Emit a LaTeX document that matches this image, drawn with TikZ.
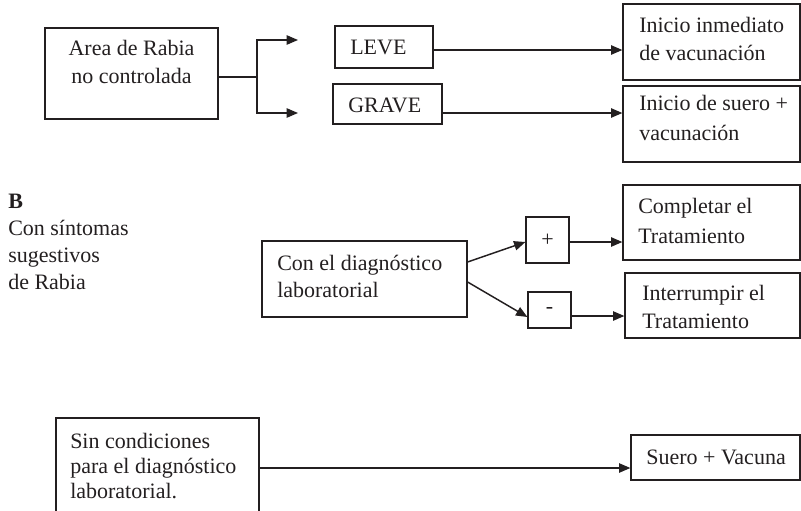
\documentclass[tikz,border=0pt]{standalone}
\usepackage{fontspec}
\setmainfont{Liberation Serif}
\usetikzlibrary{fit,calc,arrows.meta}
\definecolor{ink}{RGB}{35,31,32}
\newcommand\mlines[3]{\fontsize{16.5}{#1}\selectfont\begin{tabular}[t]{@{}#2@{}}#3\end{tabular}}
\begin{document}
\begin{tikzpicture}[x=0.75pt,y=-0.75pt,
  box/.style={draw=ink, line width=0.9pt, inner sep=0pt},
  txt/.style={inner sep=0pt, anchor=base west, text=ink, font=\fontsize{16.5}{20}\selectfont},
  ctxt/.style={inner sep=0pt, anchor=base, text=ink, font=\fontsize{16.5}{20}\selectfont},
  conn/.style={draw=ink, line width=1.1pt},
  arr/.style={draw=ink, line width=1.1pt, -{Triangle[length=8.5pt,width=7pt]}}]
\useasboundingbox (0,0) rectangle (801,511);
\clip (0,0) rectangle (801,511);
% --- A section
\node[box, fit={(45,28) (218,119)}] (area) {};
\node[ctxt] (areaT) at (131.5,55) {\mlines{21pt}{c}{Area de Rabia\\no controlada}};
\node[box, fit={(335,26) (433,68)}] (lv) {};
\node[txt] (lvT) at (350,54) {LEVE};
\node[box, fit={(333,84) (442,124)}] (gr) {};
\node[txt] (grT) at (348,112) {GRAVE};
\node[box, fit={(623,4) (800,80)}] (inm) {};
\node[txt] (inmT) at (639,32) {\mlines{21pt}{l}{Inicio inmediato\\de vacunación}};
\node[box, fit={(623,86) (800,162)}] (sue) {};
\node[txt] (sueT) at (639,110) {\mlines{22.5pt}{l}{Inicio de suero +\\vacunación}};
\coordinate (br) at (257,77);
\coordinate (tl) at (298,40);
\coordinate (tg) at (298,113);
\draw[conn] (area.east |- br) -- (br);
\draw[arr] (br) |- (tl);
\draw[arr] (br) |- (tg);
\draw[arr] (lv.east |- 0,50) -- (inm.west |- 0,50);
\draw[arr] (gr.east |- 0,113) -- (sue.west |- 0,113);
% --- B section
\node[txt] (bT) at (8,208) {\mlines{20.25pt}{l}{\textbf{B}\\Con síntomas\\sugestivos\\de Rabia}};
\node[box, fit={(262,241) (467,317)}] (cd) {};
\node[txt] (cdT) at (277,270) {\mlines{20.25pt}{l}{Con el diagnóstico\\laboratorial}};
\node[box, fit={(526,217) (569,263)}] (pl) {};
\node[ctxt, anchor=center] (plT) at (pl.center) {+};
\node[box, fit={(528,292) (571,328)}] (mi) {};
\node[ctxt, anchor=center] (miT) at (mi.center) {-};
\node[box, fit={(623,185) (800,260)}] (co) {};
\node[txt] (coT) at (638,213) {\mlines{22.5pt}{l}{Completar el\\Tratamiento}};
\node[box, fit={(625,273) (800,338)}] (in) {};
\node[txt] (inT) at (642,300) {\mlines{21pt}{l}{Interrumpir el\\Tratamiento}};
\draw[arr] (cd.east |- 0,262) -- (pl.west |- 0,242);
\draw[arr] (cd.east |- 0,282) -- (mi.west |- 0,317);
\draw[arr] (pl.east |- 0,242) -- (co.west |- 0,242);
\draw[arr] (mi.east |- 0,316) -- (in.west |- 0,316);
% --- bottom
\node[box, fit={(56,418) (259,540)}] (sc) {};
\node[txt] (scT) at (70,448) {\mlines{18.75pt}{l}{Sin condiciones\\para el diagnóstico\\laboratorial.}};
\node[box, fit={(631,435) (800,480)}] (sv) {};
\node[txt] (svT) at (646,464) {Suero + Vacuna};
\draw[arr] (sc.east |- 0,468) -- (sv.west |- 0,468);
\end{tikzpicture}
\end{document}
